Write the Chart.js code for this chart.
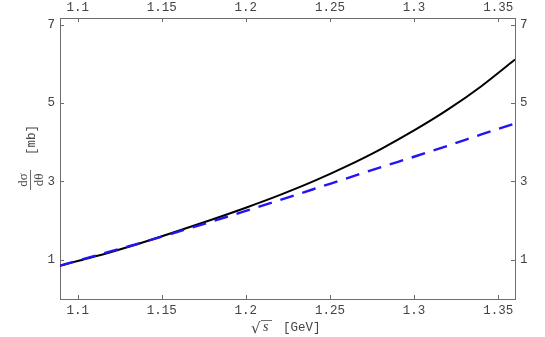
<!DOCTYPE html>
<html>
<head>
<meta charset="utf-8">
<script src="https://cdn.jsdelivr.net/npm/chart.js@4.4.1/dist/chart.umd.min.js"></script>
<style>
  html, body { margin: 0; padding: 0; background: #fff; }
  #wrap { width: 545px; height: 337px; }
</style>
</head>
<body>
<div id="wrap"><canvas id="grafico" width="545" height="337"></canvas></div>
<script>
// Dados
const sqrtS = [1.0895, 1.1, 1.12, 1.14, 1.16, 1.18, 1.2, 1.22, 1.24, 1.26, 1.28, 1.3, 1.32, 1.34, 1.36];
const solidCurve = [0.85, 0.97, 1.2, 1.46, 1.74, 2.03, 2.33, 2.65, 3.0, 3.39, 3.82, 4.3, 4.83, 5.43, 6.11];
const dashedCurve = [0.85, 0.98, 1.22, 1.46, 1.72, 1.98, 2.25, 2.52, 2.8, 3.08, 3.36, 3.63, 3.91, 4.2, 4.48];

const xTicks = [1.1, 1.15, 1.2, 1.25, 1.3, 1.35];
const xTickLabels = ['1.1', '1.15', '1.2', '1.25', '1.3', '1.35'];
const yTicks = [1, 3, 5, 7];
const yTickLabels = ['1', '3', '5', '7'];

const xRange = [1.0895, 1.36];
const yRange = [0, 7.17];

const frameColor = '#6e6e6e';
const labelColor = '#444';
const monoFont = { family: 'Liberation Mono', size: 12.5 };

function pontos(xs, ys) {
    return xs.map((x, i) => ({ x: x, y: ys[i] }));
}

// eixo x (baixo e topo)
function eixoX(pos, size, pad) {
    return {
        type: 'linear', position: pos, min: xRange[0], max: xRange[1],
        afterBuildTicks: s => { s.ticks = xTicks.map(v => ({ value: v })); },
        afterFit: s => { s.height = size; },
        grid: { drawOnChartArea: false, drawTicks: false },
        border: { display: true, color: frameColor, width: 1 },
        ticks: {
            autoSkip: false, maxRotation: 0, padding: pad, color: labelColor, font: monoFont,
            callback: (v) => xTickLabels[xTicks.indexOf(v)]
        }
    };
}

// eixo y (esquerda e direita)
function eixoY(pos, size, pad) {
    return {
        type: 'linear', position: pos, min: yRange[0], max: yRange[1],
        afterBuildTicks: s => { s.ticks = yTicks.map(v => ({ value: v })); },
        afterFit: s => { s.width = size; },
        grid: { drawOnChartArea: false, drawTicks: false },
        border: { display: true, color: frameColor, width: 1 },
        ticks: {
            autoSkip: false, padding: pad, color: labelColor, font: monoFont,
            callback: (v) => yTickLabels[yTicks.indexOf(v)]
        }
    };
}

// marcas internas + títulos dos eixos
const extras = {
    id: 'extras',
    afterDraw(chart) {
        const ctx = chart.ctx;
        const a = chart.chartArea;
        const sc = chart.scales;
        ctx.save();
        ctx.strokeStyle = frameColor;
        ctx.lineWidth = 1;
        ctx.beginPath();
        xTicks.forEach(v => {
            const px = Math.round(sc.x.getPixelForValue(v)) + 0.5;
            ctx.moveTo(px, a.bottom); ctx.lineTo(px, a.bottom - 4);
            ctx.moveTo(px, a.top); ctx.lineTo(px, a.top + 4);
        });
        yTicks.forEach(v => {
            const py = Math.round(sc.y.getPixelForValue(v)) + 0.5;
            ctx.moveTo(a.left, py); ctx.lineTo(a.left + 4, py);
            ctx.moveTo(a.right, py); ctx.lineTo(a.right - 4, py);
        });
        ctx.stroke();

        // título x: sqrt(s) [GeV]
        ctx.fillStyle = labelColor;
        ctx.textBaseline = 'alphabetic';
        ctx.textAlign = 'left';
        ctx.font = '15px "DejaVu Serif"';
        ctx.fillText('\u221A', 251, 333);
        ctx.font = 'italic 14px "Liberation Serif"';
        ctx.fillText('s', 263, 331);
        ctx.beginPath();
        ctx.moveTo(261, 320.5); ctx.lineTo(272, 320.5);
        ctx.stroke();
        ctx.font = '12.5px "Liberation Mono"';
        ctx.fillText('[GeV]', 283, 331);

        // título y: dσ/dθ [mb]
        ctx.translate(31, 160);
        ctx.rotate(-Math.PI / 2);
        ctx.textAlign = 'center';
        ctx.font = '13px "Liberation Serif"';
        ctx.fillText('d\u03C3', -20, -4);
        ctx.fillText('d\u03B8', -20, 12);
        ctx.beginPath();
        ctx.moveTo(-30, -0.5); ctx.lineTo(-10, -0.5);
        ctx.stroke();
        ctx.font = '12.5px "Liberation Mono"';
        ctx.fillText('[mb]', 20, 4);
        ctx.restore();
    }
};

new Chart(document.getElementById('grafico'), {
    type: 'line',
    data: {
        datasets: [
            {
                data: pontos(sqrtS, dashedCurve),
                borderColor: 'rgb(35, 20, 245)',
                borderWidth: 2.4,
                borderDash: [14, 9],
                pointRadius: 0,
                cubicInterpolationMode: 'monotone'
            },
            {
                data: pontos(sqrtS, solidCurve),
                borderColor: '#000',
                borderWidth: 2,
                pointRadius: 0,
                cubicInterpolationMode: 'monotone'
            }
        ]
    },
    options: {
        responsive: false,
        animation: false,
        layout: { padding: 0 },
        plugins: { legend: { display: false }, tooltip: { enabled: false } },
        scales: {
            x: eixoX('bottom', 38, 4),
            x2: eixoX('top', 18, 3),
            y: eixoY('left', 60, 5),
            y2: eixoY('right', 30, 5)
        }
    },
    plugins: [extras]
});
</script>
</body>
</html>
